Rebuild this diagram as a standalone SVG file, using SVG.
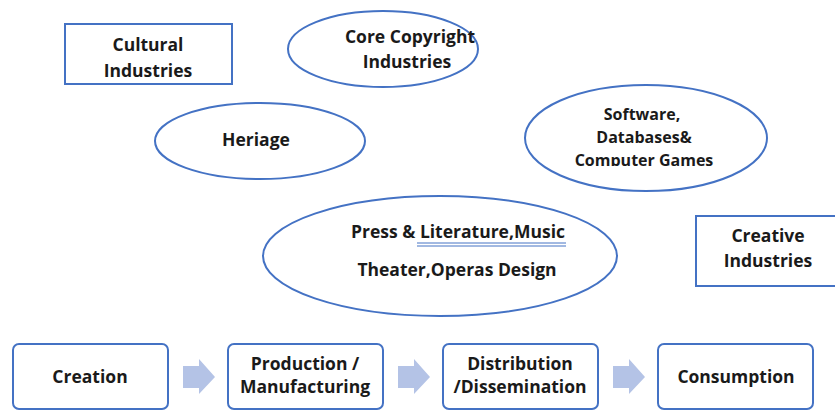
<svg xmlns="http://www.w3.org/2000/svg" width="835" height="412" viewBox="0 0 835 412">
  <style>
    .shape { fill: #ffffff; stroke: #4472c4; stroke-width: 2; }
    .lbl { font-family: "Open Sans", "Noto Sans", sans-serif; font-weight: 700; font-size: 17.5px; fill: #1a1a1a; text-anchor: middle; }
    .lbl.small { font-size: 16px; }
    .flow { fill: #b4c3e6; }
  </style>
  <defs>
    <clipPath id="clipSoftware">
      <rect x="520" y="80" width="260" height="86"/>
    </clipPath>
  </defs>
  <rect width="835" height="412" fill="#ffffff"/>

  <g id="cultural-industries">
    <rect class="shape" x="65" y="24" width="167" height="60"/>
    <text class="lbl" x="148" y="51">Cultural</text>
    <text class="lbl" x="148" y="77">Industries</text>
  </g>

  <g id="core-copyright">
    <ellipse class="shape" cx="383" cy="49" rx="95" ry="38"/>
    <text class="lbl" x="410" y="43">Core Copyright</text>
    <text class="lbl" x="407" y="68">Industries</text>
  </g>

  <g id="heritage">
    <ellipse class="shape" cx="260" cy="141" rx="105" ry="38"/>
    <text class="lbl" x="256" y="146">Heriage</text>
  </g>

  <g id="software">
    <ellipse class="shape" cx="646" cy="138" rx="121" ry="53"/>
    <g clip-path="url(#clipSoftware)">
      <text class="lbl small" x="642" y="120">Software,</text>
      <text class="lbl small" x="644" y="143">Databases&amp;</text>
      <text class="lbl small" x="644" y="166">Computer Games</text>
    </g>
  </g>

  <g id="press-literature">
    <ellipse class="shape" cx="440" cy="256" rx="177" ry="60"/>
    <text class="lbl" x="458" y="238">Press &amp; Literature,Music</text>
    <line x1="417" y1="243" x2="566" y2="243" stroke="#4472c4" stroke-width="1"/>
    <line x1="417" y1="246" x2="566" y2="246" stroke="#4472c4" stroke-width="1"/>
    <text class="lbl" x="457" y="276">Theater,Operas Design</text>
  </g>

  <g id="creative-industries">
    <rect class="shape" x="696" y="216" width="140" height="70"/>
    <text class="lbl" x="768" y="242">Creative</text>
    <text class="lbl" x="768" y="267">Industries</text>
  </g>

  <g id="creation">
    <rect class="shape" x="13" y="344" width="155" height="65" rx="6"/>
    <text class="lbl" x="90" y="383">Creation</text>
  </g>

  <g id="production">
    <rect class="shape" x="228" y="344" width="155" height="65" rx="6"/>
    <text class="lbl" x="305" y="370">Production /</text>
    <text class="lbl" x="305" y="393">Manufacturing</text>
  </g>

  <g id="distribution">
    <rect class="shape" x="443" y="344" width="155" height="65" rx="6"/>
    <text class="lbl" x="520" y="370">Distribution</text>
    <text class="lbl" x="520" y="393">/Dissemination</text>
  </g>

  <g id="consumption">
    <rect class="shape" x="658" y="344" width="155" height="65" rx="6"/>
    <text class="lbl" x="736" y="383">Consumption</text>
  </g>

  <g id="connectors">
    <path class="flow" d="M183 366 H199 V359 L215 377 L199 394 V388 H183 Z"/>
    <path class="flow" d="M398 366 H414 V359 L430 377 L414 394 V388 H398 Z"/>
    <path class="flow" d="M613 366 H629 V359 L645 377 L629 394 V388 H613 Z"/>
  </g>
</svg>
